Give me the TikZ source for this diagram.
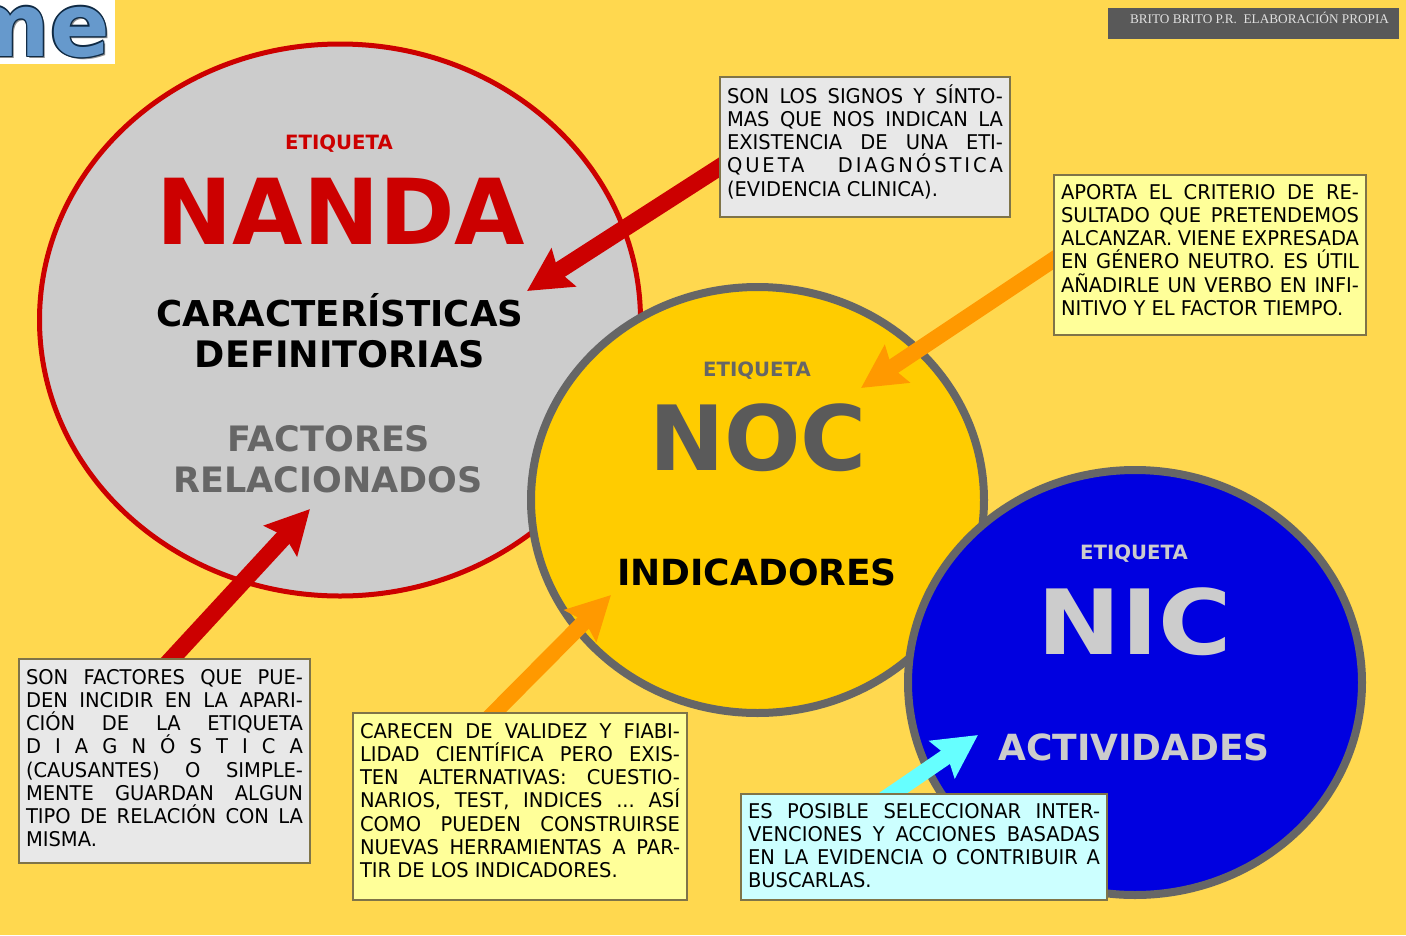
\documentclass[tikz,border=0pt]{standalone}
\usepackage{fontspec}
\usepackage{graphicx}
\usetikzlibrary{shapes.geometric,arrows.meta,calc}
\setmainfont[FakeStretch=0.96]{DejaVu Sans}
\newfontfamily\headfont{DejaVu Sans}
\newfontfamily\creditfont{Liberation Serif}
\definecolor{bgc}{HTML}{FFD84F}
\definecolor{nandaf}{HTML}{CCCCCC}
\definecolor{redc}{HTML}{CC0000}
\definecolor{greyc}{HTML}{666666}
\definecolor{nocgrey}{HTML}{5A5A5A}
\definecolor{nocf}{HTML}{FFCC00}
\definecolor{nicf}{HTML}{0000E0}
\definecolor{orangec}{HTML}{FF9900}
\definecolor{cyanc}{HTML}{66FFFF}
\definecolor{boxgrey}{HTML}{E8E8E8}
\definecolor{boxyel}{HTML}{FFFF99}
\definecolor{boxcyan}{HTML}{CCFFFF}
\definecolor{boxline}{HTML}{7F7448}
\definecolor{creditbg}{HTML}{595959}
\definecolor{logoblue}{HTML}{6699CC}
\definecolor{logodark}{HTML}{0F2A44}
\newbox\linebox
\newcommand\Jl[1]{\setbox\linebox=\hbox to \hsize{\spaceskip=0pt plus 1fil\relax #1}\ht\linebox=17pt \dp\linebox=6.15pt \box\linebox}
\newcommand\Nl[1]{\setbox\linebox=\hbox to \hsize{#1\hss}\ht\linebox=17pt \dp\linebox=6.15pt \box\linebox}
\newcommand\Boxt[4]{\vbox to #2pt{\hsize=#1pt\offinterlineskip\frenchspacing\vskip #3pt\relax #4\vss}}
\newcommand\Hd[1]{\fontsize{#1}{#1}\headfont\bfseries}
\newcommand\Lg[3]{\rlap{\kern#1pt\raisebox{#2pt}{\textcolor{#3}{me}}}}
\pgfdeclarelayer{circles}
\pgfdeclarelayer{arrows}
\pgfsetlayers{circles,arrows,main}
\tikzset{
  circ/.style={shape=ellipse,inner sep=0pt,outer sep=0pt},
  tbox/.style={draw=boxline,line width=1.2pt,anchor=north west,inner xsep=7pt,inner ysep=0pt,outer sep=0pt,font=\fontsize{20.3}{23}\selectfont,text=black},
  head/.style={anchor=base,inner sep=0pt},
  blockarrow/.style={line width=#1,-{Stealth[length=43pt,width=44pt,inset=6pt]}},
}
\begin{document}
\begin{tikzpicture}[x=1pt,y=-1pt]
\useasboundingbox (0,0) rectangle (1406,935);
\begin{pgfonlayer}{circles}
\fill[bgc] (0,0) rectangle (1406,935);
\node[circ,draw=redc,fill=nandaf,line width=5pt,minimum width=601pt,minimum height=552pt] (nanda) at (340,320) {};
\node[circ,draw=greyc,fill=nocf,line width=8pt,minimum width=453pt,minimum height=426pt] (noc) at (757.5,500) {};
\node[circ,draw=greyc,fill=nicf,line width=8pt,minimum width=454pt,minimum height=425pt] (nic) at (1135,682.5) {};
\end{pgfonlayer}

% logo
\fill[white] (0,0) rectangle (115,64);
\begin{scope}
\clip (0,0) rectangle (115,64);
\node[head,anchor=base east,text=logoblue] (logo) at (110,56) {\Hd{88}\Lg{2}{-2}{black!45}\Lg{-1.3}{0}{logodark}\Lg{1.3}{0}{logodark}\Lg{0}{1.3}{logodark}\Lg{0}{-1.3}{logodark}\Lg{-1}{-1}{logodark}\Lg{1}{-1}{logodark}\Lg{-1}{1}{logodark}\Lg{1}{1}{logodark}me};
\end{scope}

% credit
\node[fill=creditbg,text=black!12,anchor=north west,minimum width=291pt,minimum height=31pt,inner sep=0pt,outer sep=0pt,font=\creditfont\fontsize{13.25}{15}\selectfont] (credit) at (1108,8) {\raisebox{0pt}[0pt][0pt]{\hbox to 291pt{\hspace*{22pt}BRITO BRITO P.R.\ \ ELABORACIÓN PROPIA\hss}}};

% circle texts
\node[head,text=redc] (e1) at (339,149) {\Hd{19.7}ETIQUETA};
\node[head,text=redc] (nandat) at (341,244.5) {\Hd{91}NANDA};
\node[head] (cd1) at (340,326) {\Hd{35.6}CARACTERÍSTICAS};
\node[head] (cd2) at (340,367) {\Hd{36.5}DEFINITORIAS};
\node[head,text=greyc] (fr1) at (329,451) {\Hd{35}FACTORES};
\node[head,text=greyc] (fr2) at (328,492) {\Hd{35}RELACIONADOS};
\node[head,text=greyc] (e2) at (757,376) {\Hd{19.7}ETIQUETA};
\node[head,text=nocgrey] (noct) at (758,470) {\Hd{90}NOC};
\node[head] (ind) at (757,585) {\Hd{36}INDICADORES};
\node[head,text=nandaf] (e3) at (1134,559) {\Hd{19.7}ETIQUETA};
\node[head,text=nandaf] (nict) at (1135,654) {\scalebox{1.11}[1]{\Hd{90}NIC}};
\node[head,text=nandaf] (act) at (1134,760) {\Hd{36}ACTIVIDADES};

% text boxes
\node[tbox,fill=boxgrey] (b1) at (720,77) {\Boxt{276}{140}{9.5}{%
\Jl{SON LOS SIGNOS Y SÍNTO-}
\Jl{MAS QUE NOS INDICAN LA}
\Jl{EXISTENCIA DE UNA ETI-}
\Jl{\addfontfeature{LetterSpace=14.5}QUETA DIAGNÓSTICA}
\Nl{(EVIDENCIA CLINICA).}}};
\node[tbox,fill=boxyel] (b2) at (1054,175) {\Boxt{298}{160}{7.5}{%
\Jl{APORTA EL CRITERIO DE RE-}
\Jl{SULTADO QUE PRETENDEMOS}
\Jl{ALCANZAR. VIENE EXPRESADA}
\Jl{EN GÉNERO NEUTRO. ES ÚTIL}
\Jl{AÑADIRLE UN VERBO EN INFI-}
\Nl{NITIVO Y EL FACTOR TIEMPO.}}};
\node[tbox,fill=boxgrey] (b3) at (19,659) {\Boxt{277}{204}{8.5}{%
\Jl{SON FACTORES QUE PUE-}
\Jl{DEN INCIDIR EN LA APARI-}
\Jl{CIÓN DE LA ETIQUETA}
\Jl{D I A G N Ó S T I C A}
\Jl{(CAUSANTES) O SIMPLE-}
\Jl{MENTE GUARDAN ALGUN}
\Jl{TIPO DE RELACIÓN CON LA}
\Nl{MISMA.}}};
\node[tbox,fill=boxyel] (b4) at (353,713) {\Boxt{320}{187}{8.5}{%
\Jl{CARECEN DE VALIDEZ Y FIABI-}
\Jl{LIDAD CIENTÍFICA PERO EXIS-}
\Jl{TEN ALTERNATIVAS: CUESTIO-}
\Jl{NARIOS, TEST, INDICES ... ASÍ}
\Jl{COMO PUEDEN CONSTRUIRSE}
\Jl{NUEVAS HERRAMIENTAS A PAR-}
\Nl{TIR DE LOS INDICADORES.}}};
\node[tbox,fill=boxcyan] (b5) at (741,794) {\Boxt{352}{106}{7.5}{%
\Jl{ES POSIBLE SELECCIONAR INTER-}
\Jl{VENCIONES Y ACCIONES BASADAS}
\Jl{EN LA EVIDENCIA O CONTRIBUIR A}
\Nl{BUSCARLAS.}}};

% arrow ends
\coordinate (t1) at (527,291);
\coordinate (t2) at (861,388);
\coordinate (t3) at (310,509);
\coordinate (t4) at (611,595);
\coordinate (t5) at (978,735);
\begin{pgfonlayer}{arrows}
\draw[blockarrow=17pt,redc] ($(b1.west)+(17,9)$) -- (t1);
\draw[blockarrow=16pt,orangec] ($(b2.west)+(17,-7)$) -- (t2);
\draw[blockarrow=17pt,redc] ($(b3.north west)+(135,19)$) -- (t3);
\draw[blockarrow=16pt,orangec] ($(b4.north west)+(122,19)$) -- (t4);
\draw[blockarrow=16pt,cyanc] ($(b5.north west)+(123,19)$) -- (t5);
\end{pgfonlayer}
\end{tikzpicture}
\end{document}
